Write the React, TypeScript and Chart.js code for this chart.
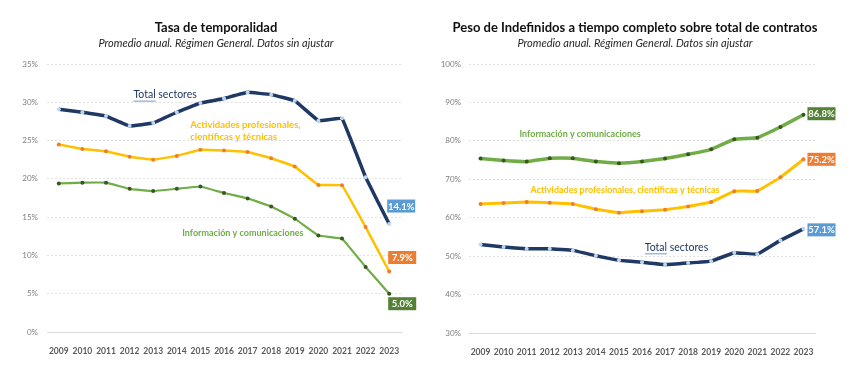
import React, { useEffect, useRef } from "react";
import { Chart, registerables } from "chart.js";
Chart.register(...registerables);

// ---------- DATA ----------
const years = ["2009", "2010", "2011", "2012", "2013", "2014", "2015", "2016", "2017", "2018", "2019", "2020", "2021", "2022", "2023"];

// Tasa de temporalidad (%)
const tempTotal = [29.1, 28.7, 28.2, 26.9, 27.3, 28.7, 29.9, 30.5, 31.3, 31.0, 30.2, 27.6, 27.9, 20.2, 14.1];
const tempProf = [24.5, 23.9, 23.6, 22.9, 22.5, 23.0, 23.8, 23.7, 23.5, 22.7, 21.6, 19.2, 19.15, 13.7, 7.9];
const tempInfo = [19.4, 19.5, 19.5, 18.7, 18.4, 18.7, 19.0, 18.15, 17.45, 16.4, 14.8, 12.6, 12.2, 8.5, 5.0];

// Peso de indefinidos a tiempo completo (%)
const indefTotal = [53.05, 52.4, 51.9, 51.9, 51.5, 50.1, 48.9, 48.4, 47.8, 48.2, 48.7, 50.9, 50.5, 54.1, 57.1];
const indefProf = [63.6, 63.8, 64.1, 63.9, 63.6, 62.2, 61.3, 61.7, 62.1, 62.9, 64.1, 66.9, 66.95, 70.5, 75.2];
const indefInfo = [75.4, 74.9, 74.6, 75.5, 75.5, 74.6, 74.2, 74.6, 75.4, 76.5, 77.8, 80.4, 80.8, 83.6, 86.8];

const seriesNames = ["Total sectores", "Actividades profesionales, científicas y técnicas", "Información y comunicaciones"];

const titles = ["Tasa de temporalidad", "Peso de Indefinidos a tiempo completo sobre total de contratos"];
const subtitle = "Promedio anual. Régimen General. Datos sin ajustar";

// ---------- STYLE ----------
const FONT = "Lato, 'Open Sans', sans-serif";
const NAVY = "#1F3864";
const GOLD = "#FFC000";
const ORANGE = "#ED7D31";
const GREEN = "#70AD47";
const DKGREEN = "#548235";
const BLUE = "#5B9BD5";

type Ann = { lines: string[]; xi: number; yv: number; color: string; size: number; bold: boolean; underlineFirst?: boolean };
type EndLbl = { ds: number; dx: number; dy: number; bg: string };

const titlePlugin = {
  id: "titles",
  afterDraw(chart: any) {
    const o = chart.options.plugins.titles;
    if (!o) return;
    const ctx = chart.ctx;
    ctx.save();
    ctx.textAlign = "center";
    ctx.textBaseline = "middle";
    ctx.fillStyle = "#111";
    ctx.font = `bold 13px ${FONT}`;
    ctx.fillText(o.title, o.cx, 28);
    ctx.fillStyle = "#262626";
    ctx.font = `italic 11px ${FONT}`;
    ctx.fillText(o.subtitle, o.cx, 43);
    ctx.restore();
  },
};

const annPlugin = {
  id: "anns",
  afterDatasetsDraw(chart: any) {
    const o = chart.options.plugins.anns;
    if (!o) return;
    const ctx = chart.ctx;
    const xs = chart.scales.x;
    const ys = chart.scales.y;
    ctx.save();
    (o.items as Ann[]).forEach((a) => {
      const x = xs.getPixelForValue(a.xi);
      const y0 = ys.getPixelForValue(a.yv);
      ctx.font = `${a.bold ? "bold " : ""}${a.size}px ${FONT}`;
      ctx.fillStyle = a.color;
      ctx.textAlign = "left";
      ctx.textBaseline = "middle";
      a.lines.forEach((ln, i) => {
        const y = y0 + i * (a.size + 3);
        ctx.fillText(ln, x, y);
        if (a.underlineFirst && i === 0) {
          const w = ctx.measureText(ln.split(" ")[0]).width;
          ctx.strokeStyle = "#8EA9DB";
          ctx.lineWidth = 1.2;
          ctx.beginPath();
          ctx.moveTo(x, y + a.size * 0.62);
          ctx.lineTo(x + w, y + a.size * 0.62);
          ctx.stroke();
        }
      });
    });
    (o.ends as EndLbl[]).forEach((e) => {
      const meta = chart.getDatasetMeta(e.ds);
      const pt = meta.data[meta.data.length - 1];
      const data = chart.data.datasets[e.ds].data;
      const v = data[data.length - 1] as number;
      const cx = pt.x + e.dx;
      const cy = pt.y + e.dy;
      const w = 28, h = 13;
      ctx.fillStyle = e.bg;
      ctx.fillRect(cx - w / 2, cy - h / 2, w, h);
      ctx.fillStyle = "#fff";
      ctx.font = `bold 9.5px ${FONT}`;
      ctx.textAlign = "center";
      ctx.textBaseline = "middle";
      ctx.fillText(v.toFixed(1) + "%", cx, cy + 0.5);
    });
    ctx.restore();
  },
};

function ds(label: string, data: number[], color: string, ptColor: string, width: number) {
  return {
    label,
    data,
    borderColor: color,
    backgroundColor: ptColor,
    borderWidth: width,
    pointRadius: 2,
    pointBorderWidth: 0,
    pointBackgroundColor: ptColor,
    tension: 0.05,
    borderJoinStyle: "round",
    fill: false,
  };
}

function makeConfig(p: {
  datasets: any[];
  min: number; max: number; step: number;
  yw: number; pr: number; xh: number; tickPad: number;
  title: string; cx: number; anns: Ann[]; ends: EndLbl[];
}): any {
  return {
    type: "line",
    data: { labels: years, datasets: p.datasets },
    plugins: [titlePlugin, annPlugin],
    options: {
      responsive: false,
      animation: false,
      layout: { padding: { left: 0, right: p.pr, top: 64, bottom: 0 } },
      plugins: {
        legend: { display: false },
        tooltip: { enabled: false },
        titles: { title: p.title, subtitle, cx: p.cx },
        anns: { items: p.anns, ends: p.ends },
      },
      scales: {
        x: {
          type: "category",
          offset: true,
          grid: { display: false },
          border: { display: true, color: "#D9D9D9", width: 1 },
          ticks: {
            font: { family: FONT, size: 8.5, weight: "bold" },
            color: "#595959",
            padding: 6,
            maxRotation: 0,
            autoSkip: false,
          },
          afterFit: (s: any) => { s.height = p.xh; },
        },
        y: {
          min: p.min,
          max: p.max,
          ticks: {
            stepSize: p.step,
            callback: (v: any) => v + "%",
            font: { family: FONT, size: 8 },
            color: "#7F7F7F",
            padding: p.tickPad,
          },
          grid: { color: "#E2E2E2", drawTicks: false, lineWidth: 1 },
          border: { display: false, dash: [2, 2] },
          afterFit: (s: any) => { s.width = p.yw; },
        },
      },
    },
  };
}

function ChartCanvas({ config, width, height, left }: { config: any; width: number; height: number; left: number }) {
  const ref = useRef<HTMLCanvasElement>(null);
  useEffect(() => {
    if (!ref.current) return;
    const c = new Chart(ref.current, config);
    return () => c.destroy();
  }, []);
  return (
    <canvas
      ref={ref}
      width={width}
      height={height}
      style={{ position: "absolute", left, top: 0, width, height, display: "block" }}
    />
  );
}

export default function App() {
  const leftCfg = makeConfig({
    datasets: [
      ds(seriesNames[0], tempTotal, NAVY, "#BDD7EE", 3.5),
      ds(seriesNames[1], tempProf, GOLD, ORANGE, 2.5),
      ds(seriesNames[2], tempInfo, GREEN, "#375623", 2.2),
    ],
    min: 0, max: 35, step: 5,
    yw: 47, pr: 29, xh: 49, tickPad: 9,
    title: titles[0], cx: 216,
    anns: [
      { lines: ["Total sectores"], xi: 3.16, yv: 31.0, color: NAVY, size: 10.5, bold: false, underlineFirst: true },
      { lines: ["Actividades profesionales,", "científicas y técnicas"], xi: 5.57, yv: 27.07, color: GOLD, size: 9.5, bold: true },
      { lines: ["Información y comunicaciones"], xi: 5.23, yv: 12.97, color: GREEN, size: 9, bold: true },
    ],
    ends: [
      { ds: 0, dx: 12, dy: -18, bg: BLUE },
      { ds: 1, dx: 13, dy: -14, bg: ORANGE },
      { ds: 2, dx: 13, dy: 10, bg: DKGREEN },
    ],
  });
  const rightCfg = makeConfig({
    datasets: [
      ds(seriesNames[0], indefTotal, NAVY, "#BDD7EE", 3.5),
      ds(seriesNames[1], indefProf, GOLD, ORANGE, 3),
      ds(seriesNames[2], indefInfo, GREEN, "#375623", 3.5),
    ],
    min: 30, max: 100, step: 10,
    yw: 39, pr: 43, xh: 48, tickPad: 8,
    title: titles[1], cx: 205,
    anns: [
      { lines: ["Información y comunicaciones"], xi: 1.69, yv: 81.8, color: GREEN, size: 9, bold: true },
      { lines: ["Actividades profesionales, científicas y técnicas"], xi: 2.17, yv: 67.2, color: GOLD, size: 9, bold: true },
      { lines: ["Total sectores"], xi: 7.12, yv: 52.3, color: NAVY, size: 10.5, bold: false, underlineFirst: true },
    ],
    ends: [
      { ds: 0, dx: 18, dy: 1, bg: BLUE },
      { ds: 1, dx: 18, dy: 0, bg: ORANGE },
      { ds: 2, dx: 18, dy: -1, bg: DKGREEN },
    ],
  });
  return (
    <div style={{ position: "fixed", left: 0, top: 0, width: 858, height: 381, background: "#fff" }}>
      <ChartCanvas config={leftCfg} width={430} height={381} left={0} />
      <ChartCanvas config={rightCfg} width={428} height={381} left={430} />
    </div>
  );
}
